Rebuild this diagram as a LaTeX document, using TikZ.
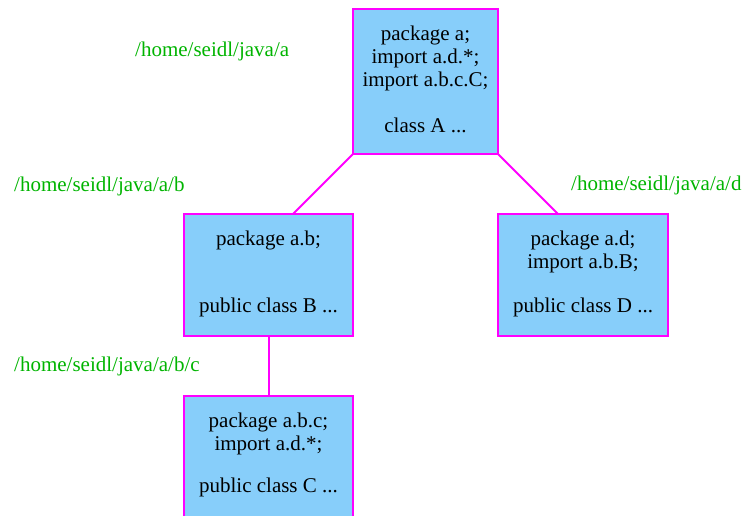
\documentclass[tikz,border=0pt]{standalone}
\usepackage{fontspec}
\setmainfont{Liberation Serif}
\definecolor{boxfill}{RGB}{135,206,250}
\definecolor{boxline}{RGB}{255,0,255}
\definecolor{pathgreen}{RGB}{0,180,0}
\begin{document}
\begin{tikzpicture}[x=1pt,y=-1pt,
  pkgbox/.style={draw=boxline,fill=boxfill,line width=2pt,inner sep=0pt,outer sep=0pt},
  txt/.style={anchor=base,inner sep=0pt,font=\fontsize{21}{24}\selectfont},
  pathlabel/.style={anchor=base west,inner sep=0pt,text=pathgreen,font=\fontsize{21}{24}\selectfont},
  conn/.style={draw=boxline,line width=2pt}]
\useasboundingbox (0,0) rectangle (744,516);
% boxes
\node[pkgbox,minimum width=145pt,minimum height=145pt] (A) at (425.5,81.5) {};
\node[pkgbox,minimum width=169pt,minimum height=122pt] (B) at (268.5,275) {};
\node[pkgbox,minimum width=170pt,minimum height=122pt] (D) at (583,275) {};
\node[pkgbox,minimum width=169pt,minimum height=122pt] (C) at (268.5,457) {};
% connectors
\draw[conn] (A.south west) -- ([xshift=24.5pt]B.north);
\draw[conn] (A.south east) -- ([xshift=-25pt]D.north);
\draw[conn] (B.south) -- (C.north);
% box texts
\node[txt] (a1) at (425.5,41) {package a;};
\node[txt] (a2) at (425.5,64) {import a.d.*;};
\node[txt] (a3) at (425.5,87) {import a.b.c.C;};
\node[txt] (a4) at (425.5,132) {class A ...};
\node[txt] (b1) at (268.5,245) {package a.b;};
\node[txt] (b2) at (268.5,312) {public class B ...};
\node[txt] (d1) at (583,245) {package a.d;};
\node[txt] (d2) at (583,268) {import a.b.B;};
\node[txt] (d3) at (583,312) {public class D ...};
\node[txt] (c1) at (268.5,427) {package a.b.c;};
\node[txt] (c2) at (268.5,450) {import a.d.*;};
\node[txt] (c3) at (268.5,492) {public class C ...};
% path labels
\node[pathlabel] (la) at (135,57) {/home/seidl/java/a};
\node[pathlabel] (lb) at (14,191) {/home/seidl/java/a/b};
\node[pathlabel] (ld) at (571,190) {/home/seidl/java/a/d};
\node[pathlabel] (lc) at (14,371) {/home/seidl/java/a/b/c};
\end{tikzpicture}
\end{document}
